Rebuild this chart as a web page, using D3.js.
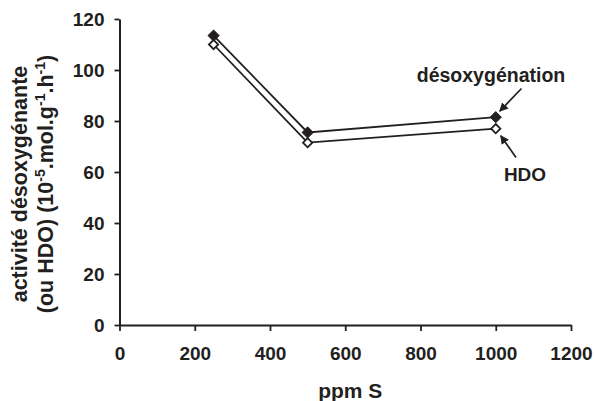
<!DOCTYPE html>
<html>
<head>
<meta charset="utf-8">
<script src="https://cdn.jsdelivr.net/npm/d3@7"></script>
<style>
  html, body { margin: 0; padding: 0; background: #fff; }
  svg text { font-family: "Liberation Sans", Arial, sans-serif; font-weight: bold; fill: #231f20; }
</style>
</head>
<body>
<svg id="chart" width="595" height="401"></svg>
<script>
// Sulfur content (ppm S)
const ppmS = [250, 500, 1000];
// Activities in 10^-5 mol.g^-1.h^-1
const desoxygenation = [113.5, 75.5, 81.5];
const hdo = [110, 71.5, 77];
const xTicks = [0, 200, 400, 600, 800, 1000, 1200];
const yTicks = [0, 20, 40, 60, 80, 100, 120];

const svg = d3.select("#chart");
const ink = "#231f20";

const x = d3.scaleLinear().domain([0, 1200]).range([119.5, 571]);
const y = d3.scaleLinear().domain([0, 120]).range([325, 19]);

// Axes
const xAxis = svg.append("g")
  .attr("transform", `translate(0,${y(0)})`)
  .call(d3.axisBottom(x).tickValues(xTicks).tickFormat(d3.format("d"))
    .tickSize(6).tickPadding(10).tickSizeOuter(0));
const yAxis = svg.append("g")
  .attr("transform", `translate(${x(0)},0)`)
  .call(d3.axisLeft(y).tickValues(yTicks).tickFormat(d3.format("d"))
    .tickSize(5).tickPadding(10).tickSizeOuter(0));

[xAxis, yAxis].forEach(g => {
  g.attr("font-family", null).attr("font-size", null);
  g.select(".domain").attr("stroke", ink).attr("stroke-width", 2);
  g.selectAll(".tick line").attr("stroke", ink).attr("stroke-width", 1.8);
  g.selectAll(".tick text").style("font-size", "19px").attr("fill", ink);
});
xAxis.selectAll(".tick text").attr("dy", "1.0em");
yAxis.selectAll(".tick text").attr("dy", "0.36em");

// Axis titles
svg.append("text")
  .attr("x", (x(0) + x(1200)) / 2 + 5).attr("y", 398)
  .attr("text-anchor", "middle").style("font-size", "21px")
  .text("ppm S");

const yTitle = svg.append("text")
  .attr("transform", "translate(0,184) rotate(-90)")
  .attr("text-anchor", "middle").style("font-size", "21.5px");
yTitle.append("tspan").attr("x", 0).attr("y", 27).text("activité désoxygénante");
const l2 = yTitle.append("tspan").attr("x", 0).attr("y", 53);
l2.append("tspan").text("(ou HDO) (10");
l2.append("tspan").attr("dy", -8).style("font-size", "14px").text("-5");
l2.append("tspan").attr("dy", 8).text(".mol.g");
l2.append("tspan").attr("dy", -8).style("font-size", "14px").text("-1");
l2.append("tspan").attr("dy", 8).text(".h");
l2.append("tspan").attr("dy", -8).style("font-size", "14px").text("-1");
l2.append("tspan").attr("dy", 8).text(")");

// Series lines and markers
const line = d3.line().x(d => x(d[0])).y(d => y(d[1]));
const diamond = d3.symbol().type(d3.symbolDiamond2);

function drawSeries(values, filled) {
  const pts = ppmS.map((s, i) => [s, values[i]]);
  svg.append("path").datum(pts)
    .attr("d", line).attr("fill", "none")
    .attr("stroke", ink).attr("stroke-width", 1.8);
  svg.selectAll(null).data(pts).enter().append("path")
    .attr("d", diamond.size(filled ? 80 : 55))
    .attr("transform", d => `translate(${x(d[0])},${y(d[1])})`)
    .attr("fill", filled ? ink : "#fff")
    .attr("stroke", ink).attr("stroke-width", filled ? 1 : 1.8);
}
drawSeries(hdo, false);
drawSeries(desoxygenation, true);

// Annotation labels with arrows
svg.append("defs").append("marker")
  .attr("id", "head").attr("viewBox", "0 0 10 10")
  .attr("refX", 9).attr("refY", 5)
  .attr("markerWidth", 9).attr("markerHeight", 9)
  .attr("markerUnits", "userSpaceOnUse")
  .attr("orient", "auto")
  .append("path").attr("d", "M0,0 L10,5 L0,10 Z").attr("fill", ink);

const last = ppmS.length - 1;
svg.append("text")
  .attr("x", 491).attr("y", 82)
  .attr("text-anchor", "middle").style("font-size", "19.5px")
  .text("désoxygénation");
svg.append("line")
  .attr("x1", 521.5).attr("y1", 88.5)
  .attr("x2", x(ppmS[last]) + 4).attr("y2", y(desoxygenation[last]) - 6)
  .attr("stroke", ink).attr("stroke-width", 1.7).attr("marker-end", "url(#head)");

svg.append("text")
  .attr("x", 525).attr("y", 181)
  .attr("text-anchor", "middle").style("font-size", "19px")
  .text("HDO");
svg.append("line")
  .attr("x1", 516).attr("y1", 157.5)
  .attr("x2", x(ppmS[last]) + 5).attr("y2", y(hdo[last]) + 7)
  .attr("stroke", ink).attr("stroke-width", 1.7).attr("marker-end", "url(#head)");
</script>
</body>
</html>
